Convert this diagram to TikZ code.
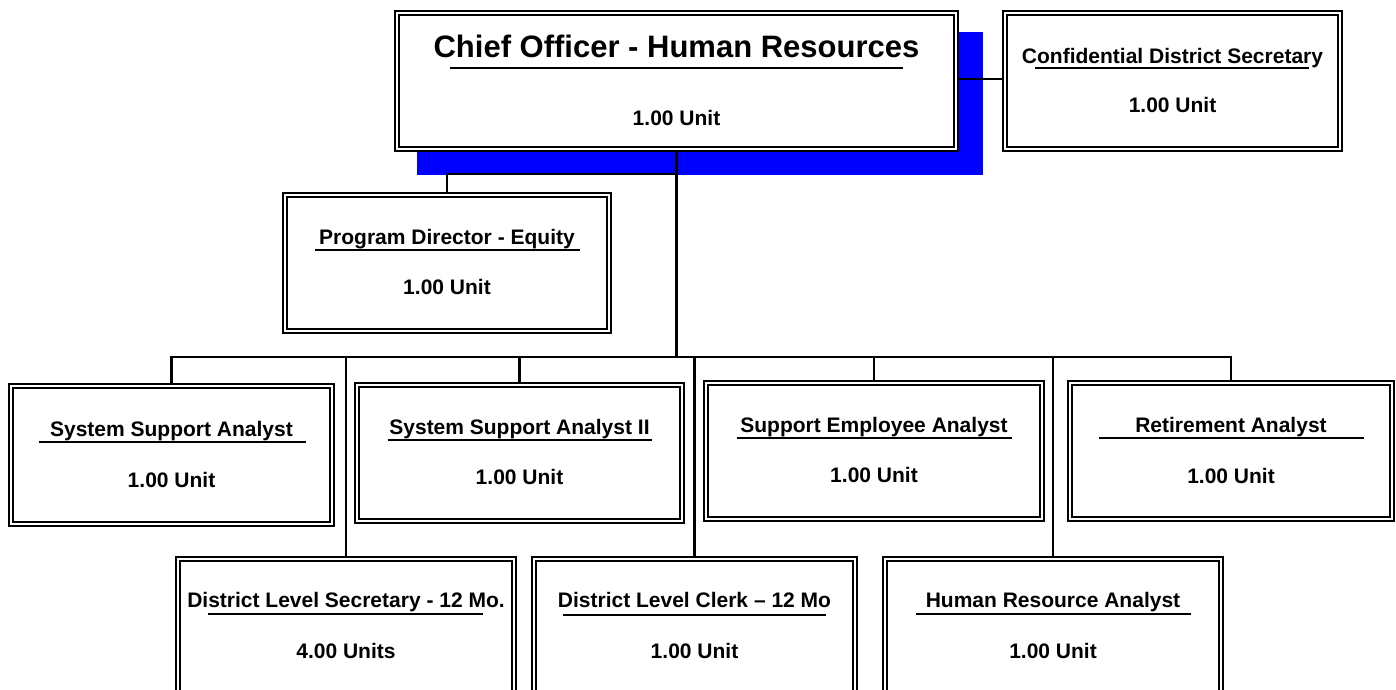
\documentclass[tikz,border=0pt]{standalone}
\usepackage{fontspec}
\setmainfont{Liberation Sans}
\usetikzlibrary{backgrounds}

\tikzset{
  posbox/.style={draw, double, double distance=2.3pt, line width=1.7pt, fill=white, inner sep=0pt},
  ttl/.style={anchor=base, inner sep=0pt, font=\bfseries\fontsize{21}{25}\selectfont},
  units/.style={anchor=base, inner sep=0pt, font=\bfseries\fontsize{21}{25}\selectfont},
  uline/.style={line width=1.8pt},
  link/.style={line width=2.2pt}
}

\begin{document}
\begin{tikzpicture}[x=1pt,y=-1pt]
\useasboundingbox (0,0) rectangle (1396,689);
\clip (0,0) rectangle (1396,689);

% top level
\node[posbox, minimum width=559.3pt, minimum height=136.3pt] (chief) at (676.5,81) {};
\node[ttl, font=\bfseries\fontsize{31}{36}\selectfont] (chieft) at (676.5,57) {Chief Officer - Human Resources};
\draw[uline] (450,68) -- (903,68);
\node[units] (chiefu) at (676.5,125) {1.00 Unit};

\node[posbox, minimum width=335.3pt, minimum height=136.3pt] (conf) at (1172.5,81) {};
\node[ttl] (conft) at (1172.5,63) {Confidential District Secretary};
\draw[uline] (1035,68) -- (1309,68);
\node[units] (confu) at (1172.5,112) {1.00 Unit};

\node[posbox, minimum width=324.3pt, minimum height=136.3pt] (pd) at (447,263) {};
\node[ttl] (pdt) at (447,244) {Program Director - Equity};
\draw[uline] (315,250) -- (580,250);
\node[units] (pdu) at (447,294) {1.00 Unit};

% second row
\node[posbox, minimum width=321.3pt, minimum height=138.3pt] (ssa) at (171.5,455) {};
\node[ttl] (ssat) at (171.5,436) {System Support Analyst};
\draw[uline] (39,442) -- (306,442);
\node[units] (ssau) at (171.5,487) {1.00 Unit};

\node[posbox, minimum width=325.3pt, minimum height=136.3pt] (ssb) at (519.5,453) {};
\node[ttl] (ssbt) at (519.5,434) {System Support Analyst II};
\draw[uline] (388,440) -- (652,440);
\node[units] (ssbu) at (519.5,484) {1.00 Unit};

\node[posbox, minimum width=336.3pt, minimum height=136.3pt] (sea) at (874,451) {};
\node[ttl] (seat) at (874,432) {Support Employee Analyst};
\draw[uline] (737,438) -- (1012,438);
\node[units] (seau) at (874,482) {1.00 Unit};

\node[posbox, minimum width=322.3pt, minimum height=136.3pt] (ra) at (1231,451) {};
\node[ttl] (rat) at (1231,432) {Retirement Analyst};
\draw[uline] (1099,438) -- (1364,438);
\node[units] (rau) at (1231,483) {1.00 Unit};

% third row
\node[posbox, minimum width=336.3pt, minimum height=137.3pt] (dls) at (346,627.5) {};
\node[ttl] (dlst) at (346,607) {District Level Secretary - 12 Mo.};
\draw[uline] (208,614) -- (483,614);
\node[units] (dlsu) at (346,658) {4.00 Units};

\node[posbox, minimum width=321.3pt, minimum height=137.3pt] (dlc) at (694.5,627.5) {};
\node[ttl] (dlct) at (694.5,607) {District Level Clerk – 12 Mo};
\draw[uline] (563,615) -- (826,615);
\node[units] (dlcu) at (694.5,658) {1.00 Unit};

\node[posbox, minimum width=336.3pt, minimum height=137.3pt] (hra) at (1053,627.5) {};
\node[ttl] (hrat) at (1053,607) {Human Resource Analyst};
\draw[uline] (916,614) -- (1191,614);
\node[units] (hrau) at (1053,658) {1.00 Unit};

\coordinate (split) at (676.5,174);
\coordinate (bus) at (676.5,357);

\begin{pgfonlayer}{background}
\fill[blue] (417,32) rectangle (983,175);
\draw[link] ([yshift=2pt]chief.east) -- ([yshift=2pt]conf.west);
\draw[link] (chief.south) -- (bus);
\draw[link] (pd.north) |- (split);
\draw[link] (ssa.north) |- (bus);
\draw[link] (ssb.north) |- (bus);
\draw[link] (sea.north) |- (bus);
\draw[link] (ra.north) |- (bus);
\draw[link] (dls.north) |- (bus);
\draw[link] (dlc.north) |- (bus);
\draw[link] (hra.north) |- (bus);
\end{pgfonlayer}
\end{tikzpicture}
\end{document}
